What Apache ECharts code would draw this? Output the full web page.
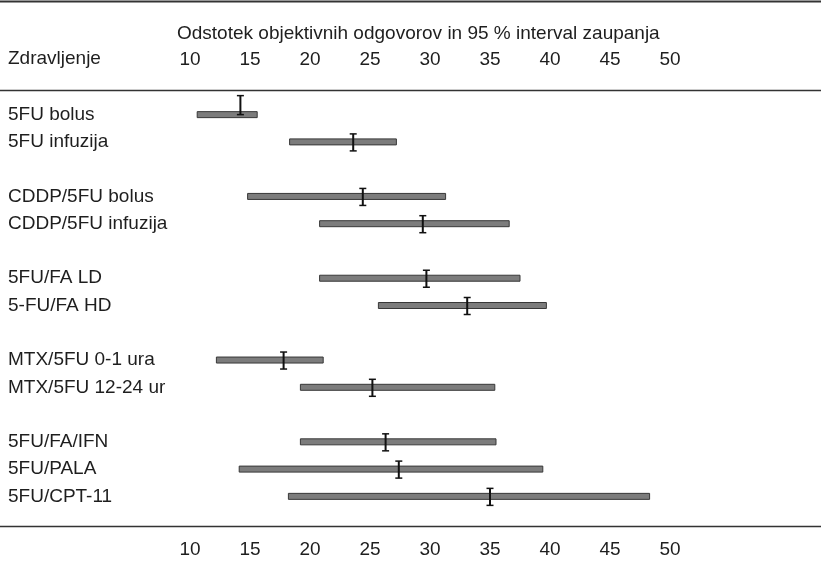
<!DOCTYPE html>
<html>
<head>
<meta charset="utf-8">
<script src="https://cdn.jsdelivr.net/npm/echarts@6/dist/echarts.min.js"></script>
<style>html,body{margin:0;padding:0;background:#fff}#c{width:821px;height:569px}</style>
</head>
<body>
<div id="c"></div>
<script>
const categories = ['5FU bolus', '5FU infuzija', '', 'CDDP/5FU bolus', 'CDDP/5FU infuzija', '', '5FU/FA LD', '5-FU/FA HD', '', 'MTX/5FU 0-1 ura', 'MTX/5FU 12-24 ur', '', '5FU/FA/IFN', '5FU/PALA', '5FU/CPT-11'];
const lowValues  = [10.6, 18.3, null, 14.8, 20.8, null, 20.8, 25.7, null, 12.2, 19.2, null, 19.2, 14.1, 18.2];
const highValues = [15.6, 27.2, null, 31.3, 36.6, null, 37.5, 39.7, null, 21.1, 35.4, null, 35.5, 39.4, 48.3];
const meanValues = [14.2, 23.6, null, 24.4, 29.4, null, 29.7, 33.1, null, 17.8, 25.2, null, 26.3, 27.4, 35.0];
const tickValues = [10, 15, 20, 25, 30, 35, 40, 45, 50];
const titleText = 'Odstotek objektivnih odgovorov in 95 % interval zaupanja';
const rowHeader = 'Zdravljenje';

const FONT = '"Liberation Sans Narrow", "Liberation Sans", Arial, sans-serif';
const TXT = '#1e1e1e';

const data = [];
categories.forEach((c, i) => {
  if (lowValues[i] != null) data.push([i, lowValues[i], highValues[i], meanValues[i]]);
});

const chart = echarts.init(document.getElementById('c'), null, {renderer: 'canvas'});
const xAxisBase = {
  type: 'value', min: 10, max: 50, interval: 5,
  axisLine: {show: false}, axisTick: {show: false}, splitLine: {show: false},
  axisLabel: {color: TXT, fontSize: 19, fontFamily: FONT,
    formatter: v => tickValues.indexOf(v) >= 0 ? String(v) : ''}
};
chart.setOption({
  animation: false,
  backgroundColor: '#fff',
  title: [
    {text: titleText, left: 177, top: 24, padding: 0, textStyle: {color: TXT, fontSize: 19, fontWeight: 'normal', fontFamily: FONT}},
    {text: rowHeader, left: 8, top: 49, padding: 0, textStyle: {color: TXT, fontSize: 19, fontWeight: 'normal', fontFamily: FONT}}
  ],
  grid: {left: 190, right: 151, top: 101, bottom: 59, containLabel: false},
  xAxis: [
    Object.assign({}, xAxisBase, {position: 'bottom', axisLabel: Object.assign({}, xAxisBase.axisLabel, {margin: 30})}),
    Object.assign({}, xAxisBase, {position: 'top', axisLabel: Object.assign({}, xAxisBase.axisLabel, {margin: 32})})
  ],
  yAxis: {
    type: 'category', data: categories, inverse: true,
    axisLine: {show: false}, axisTick: {show: false}, splitLine: {show: false},
    axisLabel: {color: TXT, fontSize: 19, fontFamily: FONT, align: 'left', margin: 182, interval: 0}
  },
  graphic: [
    {type: 'line', shape: {x1: 0, y1: 1.5, x2: 821, y2: 1.5}, style: {stroke: '#333', lineWidth: 2}},
    {type: 'line', shape: {x1: 0, y1: 90.5, x2: 821, y2: 90.5}, style: {stroke: '#333', lineWidth: 1.6}},
    {type: 'line', shape: {x1: 0, y1: 526.5, x2: 821, y2: 526.5}, style: {stroke: '#333', lineWidth: 1.6}}
  ],
  series: [{
    type: 'custom',
    xAxisIndex: 0,
    data: data,
    encode: {x: [1, 2, 3], y: 0},
    renderItem: function (params, api) {
      const idx = api.value(0);
      const p0 = api.coord([api.value(1), idx]);
      const p1 = api.coord([api.value(2), idx]);
      const pm = api.coord([api.value(3), idx]);
      const h = 6;
      const y = p0[1];
      const mTop = params.dataIndex === 0 ? y - 19 : y - 8;
      const mBot = params.dataIndex === 0 ? y : y + 9;
      return {
        type: 'group',
        children: [
          {type: 'rect', shape: {x: p0[0], y: y - h / 2, width: p1[0] - p0[0], height: h},
            style: {fill: '#7c7c7c', stroke: '#383838', lineWidth: 1}},
          {type: 'line', shape: {x1: pm[0], y1: mTop, x2: pm[0], y2: mBot}, style: {stroke: '#111', lineWidth: 2}},
          {type: 'line', shape: {x1: pm[0] - 3.5, y1: mTop, x2: pm[0] + 3.5, y2: mTop}, style: {stroke: '#111', lineWidth: 1.5}},
          {type: 'line', shape: {x1: pm[0] - 3.5, y1: mBot, x2: pm[0] + 3.5, y2: mBot}, style: {stroke: '#111', lineWidth: 1.5}}
        ]
      };
    }
  }]
});
</script>
</body>
</html>
